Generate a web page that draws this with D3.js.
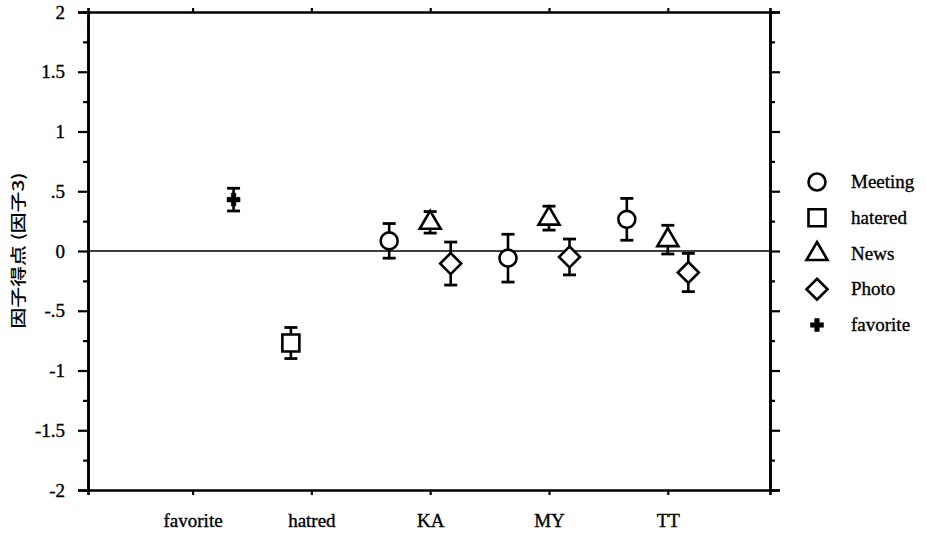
<!DOCTYPE html>
<html>
<head>
<meta charset="utf-8">
<script src="https://cdn.jsdelivr.net/npm/d3@7"></script>
<style>
  html, body { margin: 0; padding: 0; background: #fff; }
</style>
</head>
<body>
<div id="chart"></div>
<script>
// Factor scores (factor 3) by stimulus group, mean +/- error

const categories = ['favorite', 'hatred', 'KA', 'MY', 'TT'];
const seriesNames = ['Meeting', 'hatered', 'News', 'Photo', 'favorite'];

const meetingMean = [null, null, 0.085, -0.06, 0.265];
const meetingErr = [null, null, 0.145, 0.2, 0.175];
const hateredMean = [null, -0.77, null, null, null];
const hateredErr = [null, 0.13, null, null, null];
const newsMean = [null, null, 0.24, 0.275, 0.095];
const newsErr = [null, null, 0.09, 0.1, 0.12];
const photoMean = [null, null, -0.105, -0.05, -0.18];
const photoErr = [null, null, 0.18, 0.15, 0.16];
const favoriteMean = [0.43, null, null, null, null];
const favoriteErr = [0.095, null, null, null, null];

const yMajor = [-2, -1.5, -1, -0.5, 0, 0.5, 1, 1.5, 2];
const yMinor = [-1.75, -1.25, -0.75, -0.25, 0.25, 0.75, 1.25, 1.75];
const yLabel = '因子得点 (因子3)';

const SERIF = '"Liberation Serif", "Times New Roman", "DejaVu Serif", serif';

const CONFIG = {
  width: 926,
  height: 533,
  left: 88,
  right: 770,
  top: 12,
  bottom: 490,
};

const seriesData = [
  { name: 'Meeting', shape: 'circle', mean: meetingMean, err: meetingErr },
  { name: 'hatered', shape: 'square', mean: hateredMean, err: hateredErr },
  { name: 'News', shape: 'triangle', mean: newsMean, err: newsErr },
  { name: 'Photo', shape: 'diamond', mean: photoMean, err: photoErr },
  { name: 'favorite', shape: 'plus', mean: favoriteMean, err: favoriteErr },
];

// marker outlines, centered on 0,0
const shapePath = {
  circle: () => d3.symbol(d3.symbolCircle, Math.PI * 8.5 * 8.5)(),
  square: () => 'M-8.5,-8.5H8.5V8.5H-8.5Z',
  triangle: () => 'M0,-11.5L10.5,6.5H-10.5Z',
  diamond: () => 'M0,-10.5L10.5,0L0,10.5L-10.5,0Z',
  plus: () => 'M-2.3,-6.5H2.3V-2.3H6.5V2.3H2.3V6.5H-2.3V2.3H-6.5V-2.3H-2.3Z',
};

function drawMarker(g, shape) {
  g.append('path')
    .attr('d', shapePath[shape]())
    .attr('fill', shape === 'plus' ? '#000' : '#fff')
    .attr('stroke', '#000')
    .attr('stroke-width', shape === 'plus' ? 0.5 : 2.6)
    .attr('stroke-linejoin', 'miter');
}

// scanned print looks heavier, so give serif text a hairline outline
function serifText(sel) {
  return sel
    .style('font-family', SERIF)
    .style('font-size', '19px')
    .style('fill', '#000')
    .style('stroke', '#000')
    .style('stroke-width', '0.35px');
}

function initChart() {
  const container = d3.select('#chart');
  container.html('');

  const svg = container
    .append('svg')
    .attr('width', CONFIG.width)
    .attr('height', CONFIG.height);

  const x = d3.scaleLinear().domain([-0.88, 4.86]).range([CONFIG.left, CONFIG.right]);
  const y = d3.scaleLinear().domain([-2, 2]).range([CONFIG.bottom, CONFIG.top]);
  const offset = d3.scalePoint().domain(seriesNames).range([-41, 41]);
  const catIdx = categories.map((c, i) => i);

  const styleAxis = g => {
    g.attr('font-family', null).attr('font-size', null);
    g.selectAll('.domain').attr('stroke', '#000').attr('stroke-width', 2.6);
    g.selectAll('.tick line').attr('stroke', '#000').attr('stroke-width', 2.2);
    g.selectAll('text').call(serifText);
  };

  // left axis
  svg.append('g')
    .attr('transform', `translate(${CONFIG.left},0)`)
    .call(d3.axisLeft(y).tickValues(yMajor).tickSize(10).tickPadding(13)
      .tickFormat(d => String(d).replace('0.', '.')))
    .call(styleAxis);
  svg.append('g')
    .attr('transform', `translate(${CONFIG.left},0)`)
    .call(d3.axisLeft(y).tickValues(yMinor).tickSize(5).tickFormat(''))
    .call(styleAxis);

  // right axis
  svg.append('g')
    .attr('transform', `translate(${CONFIG.right},0)`)
    .call(d3.axisRight(y).tickValues(yMajor).tickSize(10).tickFormat(''))
    .call(styleAxis);
  svg.append('g')
    .attr('transform', `translate(${CONFIG.right},0)`)
    .call(d3.axisRight(y).tickValues(yMinor).tickSize(5).tickFormat(''))
    .call(styleAxis);

  // bottom axis
  svg.append('g')
    .attr('transform', `translate(0,${CONFIG.bottom})`)
    .call(d3.axisBottom(x).tickValues(catIdx).tickSize(5).tickPadding(19)
      .tickFormat(i => categories[i]))
    .call(styleAxis);

  // top axis
  svg.append('g')
    .attr('transform', `translate(0,${CONFIG.top})`)
    .call(d3.axisTop(x).tickValues(catIdx).tickSize(4).tickFormat(''))
    .call(styleAxis);

  // zero line
  svg.append('line')
    .attr('x1', x.range()[0]).attr('x2', x.range()[1])
    .attr('y1', y(0)).attr('y2', y(0))
    .attr('stroke', '#000').attr('stroke-width', 1.6);

  // y label
  svg.append('text')
    .attr('transform', `translate(24,${(y(-0.67) + y(0.68)) / 2}) rotate(-90) scale(1.3,1)`)
    .attr('text-anchor', 'middle')
    .style('font-family', '"Noto Sans CJK JP", "Noto Sans CJK SC", sans-serif')
    .style('font-size', '16px')
    .style('font-weight', '500')
    .style('fill', '#000')
    .text(yLabel);

  // points with error bars
  seriesData.forEach(s => {
    const pts = catIdx
      .filter(i => s.mean[i] !== null)
      .map(i => ({ cx: x(i) + offset(s.name), m: s.mean[i], e: s.err[i] }));

    const g = svg.append('g').attr('class', 'series');
    pts.forEach(p => {
      const pg = g.append('g');
      const capW = 6.5;
      pg.append('line')
        .attr('x1', p.cx).attr('x2', p.cx)
        .attr('y1', y(p.m + p.e)).attr('y2', y(p.m - p.e))
        .attr('stroke', '#000').attr('stroke-width', 2.6);
      [p.m + p.e, p.m - p.e].forEach(v => {
        pg.append('line')
          .attr('x1', p.cx - capW).attr('x2', p.cx + capW)
          .attr('y1', y(v)).attr('y2', y(v))
          .attr('stroke', '#000').attr('stroke-width', 2.8);
      });
      const mg = pg.append('g').attr('transform', `translate(${p.cx},${y(p.m)})`);
      drawMarker(mg, s.shape);
    });
  });

  // legend
  const ly = d3.scalePoint().domain(seriesNames).range([182, 325]);
  const legend = svg.append('g');
  seriesData.forEach(s => {
    const row = legend.append('g').attr('transform', `translate(817,${ly(s.name)})`);
    drawMarker(row, s.shape);
    row.append('text')
      .attr('x', 34)
      .attr('dy', '0.32em')
      .call(serifText)
      .text(s.name);
  });
}

initChart();
</script>
</body>
</html>
